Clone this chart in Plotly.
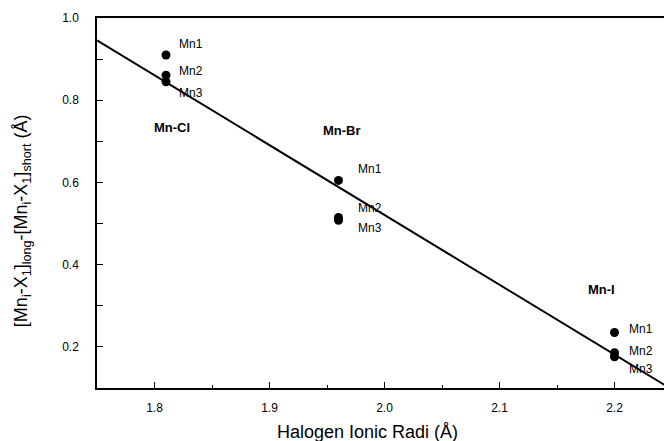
import numpy as np
import plotly.graph_objects as go

# Data
groups = ["Mn-Cl", "Mn-Br", "Mn-I"]
ionic_radii = [1.81, 1.96, 2.20]
mn_labels = ["Mn1", "Mn2", "Mn3"]
mn_cl = [0.910, 0.861, 0.845]
mn_br = [0.605, 0.515, 0.508]
mn_i = [0.235, 0.186, 0.176]
x_ticks = [1.8, 1.9, 2.0, 2.1, 2.2]
y_ticks = [0.2, 0.4, 0.6, 0.8, 1.0]

series = [mn_cl, mn_br, mn_i]
xs = [r for r, s in zip(ionic_radii, series) for _ in s]
ys = [v for s in series for v in s]

slope, intercept = np.polyfit(xs, ys, 1)
x_fit = np.array([1.75, 2.25])
y_fit = slope * x_fit + intercept

fig = go.Figure()
fig.add_trace(go.Scatter(x=x_fit, y=y_fit, mode="lines",
                         line=dict(color="black", width=2), showlegend=False))
fig.add_trace(go.Scatter(x=xs, y=ys, mode="markers",
                         marker=dict(color="black", size=9), showlegend=False))

font = "Arial, Liberation Sans, sans-serif"
# label text y positions (data units) and pixel x offsets
label_y = {
    "Mn-Cl": [0.937, 0.871, 0.817],
    "Mn-Br": [0.632, 0.539, 0.488],
    "Mn-I": [0.244, 0.190, 0.146],
}
label_dx = {"Mn-Cl": 11, "Mn-Br": 17, "Mn-I": 12}
group_pos = {"Mn-Cl": (1.815, 0.734), "Mn-Br": (1.963, 0.727), "Mn-I": (2.189, 0.339)}

for g, r in zip(groups, ionic_radii):
    for lab, ly in zip(mn_labels, label_y[g]):
        fig.add_annotation(x=r, y=ly, text=lab, showarrow=False, xanchor="left",
                           xshift=label_dx[g], font=dict(family=font, size=12, color="black"))
    gx, gy = group_pos[g]
    fig.add_annotation(x=gx, y=gy, text="<b>%s</b>" % g, showarrow=False,
                       font=dict(family=font, size=13, color="black"))

# axis titles as annotations
fig.add_annotation(xref="paper", yref="paper", x=0.4696, y=0, yshift=-44,
                   xanchor="center", yanchor="middle", showarrow=False,
                   text="Halogen Ionic Radi (Å)", font=dict(family=font, size=18, color="black"))
fig.add_annotation(xref="paper", yref="paper", x=0, xshift=-75, y=0.451,
                   xanchor="center", yanchor="middle", showarrow=False, textangle=-90,
                   text="[Mn<sub>i</sub>-X<sub>1</sub>]<sub>long</sub>-[Mn<sub>i</sub>-X<sub>1</sub>]<sub>short</sub> (Å)",
                   font=dict(family=font, size=18, color="black"))

fig.update_layout(
    width=664, height=433,
    margin=dict(l=89, r=0, t=10, b=53),
    plot_bgcolor="white", paper_bgcolor="white",
    font=dict(family=font, size=12, color="black"),
)
fig.update_xaxes(range=[1.75, 2.25], tickvals=x_ticks, ticktext=["%.1f" % v for v in x_ticks],
                 showline=True, linecolor="black", linewidth=1.5, mirror=True,
                 ticks="inside", ticklen=6, tickcolor="black",
                 minor=dict(ticks="inside", ticklen=3, dtick=0.05, tickcolor="black"),
                 showgrid=False, zeroline=False, ticklabelstandoff=8)
fig.update_yaxes(range=[0.1, 1.0], tickvals=y_ticks, ticktext=["%.1f" % v for v in y_ticks],
                 showline=True, linecolor="black", linewidth=1.5,
                 ticks="inside", ticklen=6, tickcolor="black",
                 minor=dict(ticks="inside", ticklen=6, dtick=0.1, tickcolor="black"),
                 showgrid=False, zeroline=False, ticklabelstandoff=14)

fig.write_html("out.html")
